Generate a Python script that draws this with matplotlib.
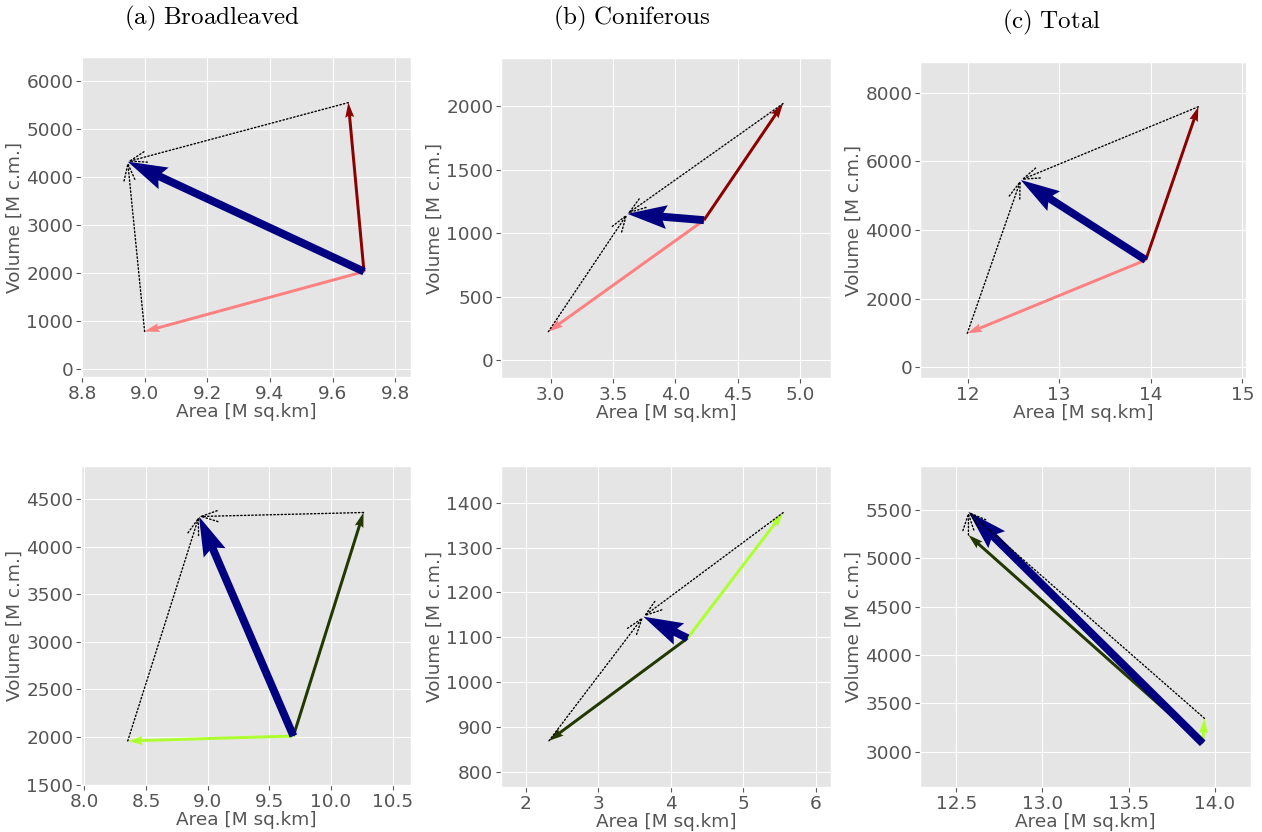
import matplotlib
matplotlib.use('Agg')
import matplotlib.pyplot as plt
from matplotlib.ticker import MultipleLocator

plt.style.use('ggplot')
plt.rcParams['mathtext.fontset'] = 'cm'

# points: (area [M sq.km], volume [M c.m.])
# top row: start, after change 1 (dark red), after change 2 (pink), combined
top_start = [(9.70, 2030), (4.23, 1102), (13.945, 3125)]
top_one = [(9.65, 5550), (4.865, 2021), (14.52, 7590)]
top_two = [(9.00, 782), (2.98, 223), (11.996, 990)]
top_total = [(8.946, 4320), (3.615, 1152), (12.58, 5456)]

# bottom row: start, after change 1 (dark green), after change 2 (light green), combined
bot_start = [(9.696, 2010), (4.23, 1098), (13.93, 3087)]
bot_one = [(10.265, 4360), (2.317, 869), (12.571, 5241)]
bot_two = [(8.352, 1958), (5.55, 1378), (13.94, 3345)]
bot_total = [(8.93, 4318), (3.62, 1146), (12.571, 5482)]

titles = ['(a) Broadleaved', '(b) Coniferous', '(c) Total']

# panel boxes in pixels (left, top, right, bottom)
W, H = 1262, 832
top_boxes = [(81, 57, 411, 377), (501, 58, 831, 378), (920, 62, 1246, 378)]
bot_boxes = [(81, 466, 411, 785), (501, 466, 831, 787), (920, 466, 1251, 787)]

top_lims = [((8.797, 9.85), (-166, 6500)), ((2.60, 5.25), (-142, 2380)),
            ((11.48, 15.04), (-311, 8893))]
bot_lims = [((7.973, 10.65), (1495, 4849)), ((1.655, 6.21), (766, 1482)),
            ((12.29, 14.21), (2635, 5955))]
top_steps = [(0.2, 1000), (0.5, 500), (1, 2000)]
bot_steps = [(0.5, 500), (1, 100), (0.5, 500)]

fig = plt.figure(figsize=(12.62, 8.32), dpi=100)


def arrow(ax, p, q, **kw):
    ax.quiver([p[0]], [p[1]], [q[0] - p[0]], [q[1] - p[1]],
              angles='xy', scale_units='xy', scale=1, **kw)


def dotted(ax, p, q):
    ax.annotate('', xy=q, xytext=p, zorder=5,
                arrowprops=dict(arrowstyle='->,head_length=0.6,head_width=0.2',
                                mutation_scale=20, color='k', lw=1,
                                linestyle=':', shrinkA=0, shrinkB=0))


def panel(box, lims, steps, start, one, two, total, c1, c2):
    l, t, r, b = box
    ax = fig.add_axes([l / W, 1 - b / H, (r - l) / W, (b - t) / H])
    arrow(ax, start, two, color=c2, width=0.009, zorder=3)
    arrow(ax, start, one, color=c1, width=0.009, zorder=3)
    arrow(ax, start, total, color='#000080', width=0.024, zorder=4)
    for p in (one, two):
        dotted(ax, p, total)
    ax.set_xlim(*lims[0])
    ax.set_ylim(*lims[1])
    ax.xaxis.set_major_locator(MultipleLocator(steps[0]))
    ax.yaxis.set_major_locator(MultipleLocator(steps[1]))
    ax.tick_params(labelsize=13.3, colors='#555555', pad=2)
    ax.set_xlabel('Area [M sq.km]', fontsize=13.3, color='#555555', labelpad=0)
    ax.set_ylabel('Volume [M c.m.]', fontsize=13.3, color='#555555', labelpad=2)
    return ax


for i in range(3):
    panel(top_boxes[i], top_lims[i], top_steps[i], top_start[i], top_one[i],
          top_two[i], top_total[i], '#8b0000', '#ff8080')
    panel(bot_boxes[i], bot_lims[i], bot_steps[i], bot_start[i], bot_one[i],
          bot_two[i], bot_total[i], '#223800', '#adff2f')

title_pos = [(212, 18), (632, 18), (1052, 22)]
for (x, y), s in zip(title_pos, titles):
    fig.text(x / W, 1 - y / H, r'$\mathrm{' + s.replace(' ', r'\ ') + '}$',
             fontsize=18, ha='center', va='center', color='black')

fig.savefig('out.png', dpi=100)
